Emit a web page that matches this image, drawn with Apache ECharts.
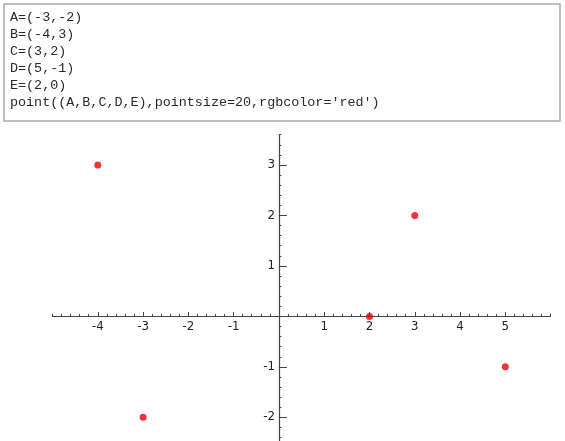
<!DOCTYPE html>
<html>
<head>
<meta charset="utf-8">
<script src="https://cdn.jsdelivr.net/npm/echarts@6/dist/echarts.min.js"></script>
<style>
  html, body { margin: 0; padding: 0; background: #fff; overflow: hidden; }
  #main { width: 565px; height: 441px; }
</style>
</head>
<body>
<div id="main"></div>
<script>
// sage cell: the code and its output
var codeLines = [
  "A=(-3,-2)",
  "B=(-4,3)",
  "C=(3,2)",
  "D=(5,-1)",
  "E=(2,0)",
  "point((A,B,C,D,E),pointsize=20,rgbcolor='red')"
];
var pointNames = ['A', 'B', 'C', 'D', 'E'];
var xValues = [-3, -4, 3, 5, 2];
var yValues = [-2, 3, 2, -1, 0];
var xTickLabels = [-4, -3, -2, -1, 1, 2, 3, 4, 5];
var yTickLabels = [-2, -1, 1, 2, 3];

var chart = echarts.init(document.getElementById('main'));

var pts = pointNames.map(function (n, i) {
  return { name: n, value: [xValues[i], yValues[i]] };
});

var graphics = [{
  type: 'rect',
  shape: { x: 4, y: 4, width: 556, height: 117 },
  style: { fill: '#fff', stroke: '#aaa', lineWidth: 1.5 },
  z: 10
}];
codeLines.forEach(function (t, i) {
  graphics.push({
    type: 'text',
    x: 10,
    y: 17.5 + i * 17,
    style: {
      text: t,
      font: '13.4px "Liberation Mono", monospace',
      fill: '#2a2a2a',
      verticalAlign: 'middle'
    },
    z: 11
  });
});

// grid box and where the zero lines fall in it
var gLeft = 52.5, gRight = 14.4, gTop = 134.7, gBottom = -26.8;
var xOff = -151.4;   // move x axis up from grid bottom to y=0
var yOff = -226.4;   // move y axis right from grid left to x=0

var axisFont = { fontFamily: 'DejaVu Sans', fontSize: 11.8, color: '#222' };
var axisColor = '#444';

chart.setOption({
  animation: false,
  graphic: graphics,
  grid: {
    left: gLeft, right: gRight, top: gTop, bottom: gBottom,
    containLabel: false, outerBoundsMode: 'none'
  },
  xAxis: [{
    type: 'value', min: -5, max: 6, interval: 1, position: 'bottom', offset: xOff,
    axisLine: { onZero: false, lineStyle: { color: axisColor, width: 1.2 } },
    axisTick: { inside: true, length: 4.5, customValues: xTickLabels, lineStyle: { color: axisColor } },
    axisLabel: Object.assign({ customValues: xTickLabels, margin: 5 }, axisFont),
    splitLine: { show: false }
  }, {
    // minor ticks every 0.2
    type: 'value', min: -5, max: 6, interval: 0.2, position: 'bottom', offset: xOff,
    axisLine: { show: false, onZero: false },
    axisTick: { inside: true, length: 2.5, lineStyle: { color: axisColor } },
    axisLabel: { show: false },
    splitLine: { show: false }
  }],
  yAxis: [{
    type: 'value', min: -3, max: 3.6, interval: 1, position: 'left', offset: yOff,
    axisLine: { onZero: false, lineStyle: { color: axisColor, width: 1.2 } },
    axisTick: { inside: true, length: 8, customValues: yTickLabels, lineStyle: { color: axisColor } },
    axisLabel: Object.assign({ customValues: yTickLabels, margin: 4 }, axisFont),
    splitLine: { show: false }
  }, {
    type: 'value', min: -3, max: 3.6, interval: 0.2, position: 'left', offset: yOff,
    axisLine: { show: false, onZero: false },
    axisTick: { inside: true, length: 2.5, lineStyle: { color: axisColor } },
    axisLabel: { show: false },
    splitLine: { show: false }
  }],
  series: [{
    type: 'scatter',
    xAxisIndex: 0,
    yAxisIndex: 0,
    symbol: 'circle',
    symbolSize: 7,
    itemStyle: { color: '#ee0000' },
    data: pts
  }]
});
</script>
</body>
</html>
